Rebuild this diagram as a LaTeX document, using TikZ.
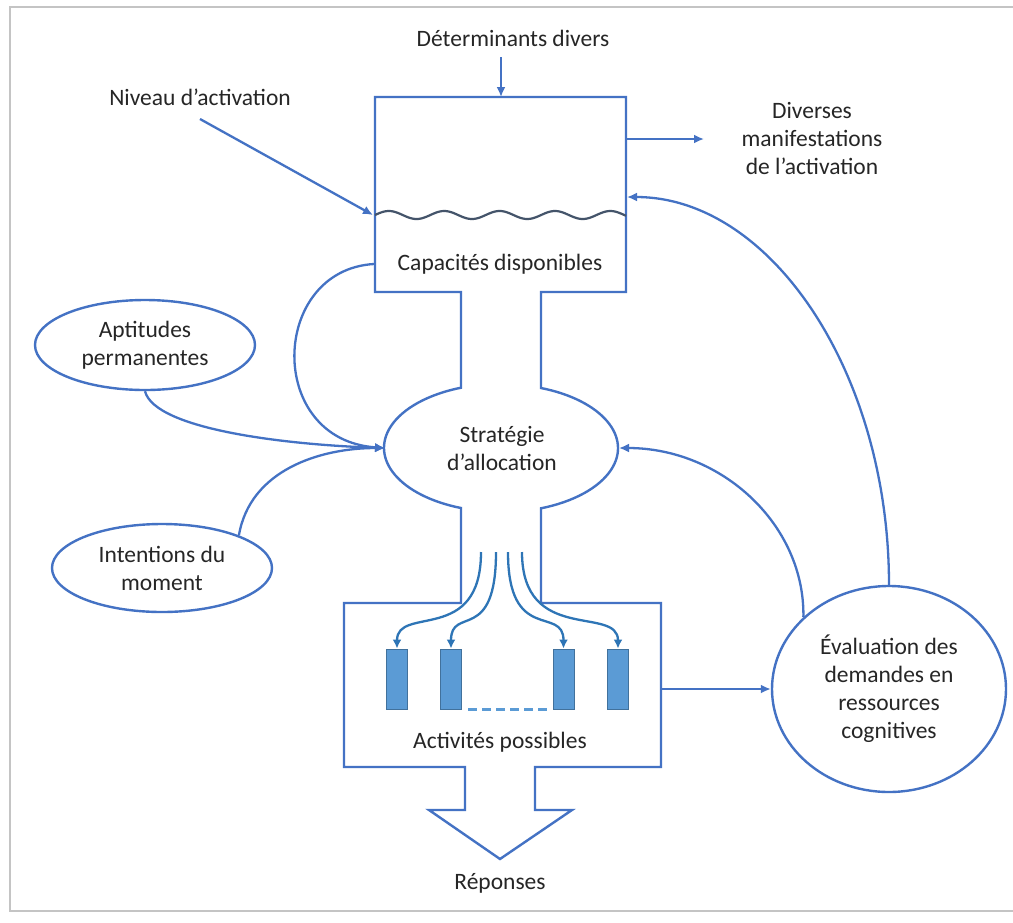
\documentclass[tikz,border=0pt]{standalone}
\usepackage{fontspec}
\setmainfont{Carlito}
\usetikzlibrary{shapes.geometric,arrows.meta}
\definecolor{ln}{HTML}{4472C4}
\definecolor{txt}{HTML}{262626}
\definecolor{wavec}{HTML}{44546A}
\definecolor{act}{HTML}{5B9BD5}
\definecolor{actb}{HTML}{41719C}
\definecolor{arr}{HTML}{2E75B6}
\definecolor{framec}{HTML}{C4C4C4}
\begin{document}
\begin{tikzpicture}[x=1pt,y=-1pt,
  font=\fontsize{23.5}{28}\selectfont,
  outl/.style={draw=ln, line width=2.4pt, line join=miter},
  conn/.style={draw=ln, line width=2.3pt, -{Latex[length=10pt,width=9pt]}},
  aconn/.style={draw=arr, line width=2.3pt, -{Latex[length=9pt,width=9pt]}},
  lbl/.style={align=center, text=txt, inner sep=0pt},
  ell/.style={ellipse, draw=ln, line width=2.4pt, inner sep=0pt, align=center, text=txt},
  actbox/.style={draw=actb, fill=act, line width=1pt, inner sep=0pt, minimum width=21pt, minimum height=60pt}]
\useasboundingbox (0,0) rectangle (1013,922);
\fill[white] (0,0) rectangle (1013,922);
% frame
\draw[framec, line width=2.5pt] (1020,7) -- (10,7) -- (10,911) -- (1020,911);

% main outline
\draw[outl] (375,97) -- (626,97) -- (626,292) -- (541,292) -- (541,388)
  arc[start angle=-70, end angle=70, x radius=117, y radius=64]
  -- (541,603) -- (661,603) -- (661,767) -- (535,767) -- (535,810) -- (572,810)
  -- (500,859) -- (429,810) -- (465,810) -- (465,767) -- (344,767) -- (344,603)
  -- (461,603) -- (461,508)
  arc[start angle=110, end angle=250, x radius=117, y radius=64]
  -- (461,292) -- (375,292) -- cycle;

% wave
\draw[wavec, line width=2.2pt] plot[domain=375:626, samples=140, smooth] (\x, {215 - 4*sin((\x-375)*6.5)});

% coordinates
\coordinate (dstart) at (501,57);
\coordinate (dend) at (501,97);
\coordinate (nstart) at (200,119);
\coordinate (nend) at (373,215);
\coordinate (mstart) at (626,139);
\coordinate (mend) at (704,139);
\coordinate (capR) at (627,197);
\coordinate (capL) at (374,264);
\coordinate (allocL) at (385,448);
\coordinate (allocR) at (619,448);
\coordinate (actR) at (661,689);

% texts
\node[lbl] (det) at (513,38) {Déterminants divers};
\node[lbl] (niv) at (200,97) {Niveau d’activation};
\node[lbl] (div) at (812,138) {Diverses\\manifestations\\de l’activation};
\node[lbl] (cap) at (500,264) {Capacités disponibles};
\node[lbl] (strat) at (502,448) {Stratégie\\d’allocation};
\node[lbl] (actp) at (500,742) {Activités possibles};
\node[lbl] (rep) at (500,883) {Réponses};

% ellipses
\node[ell, minimum width=220pt, minimum height=90pt] (apt) at (145,345) {Aptitudes\\permanentes};
\node[ell, minimum width=220pt, minimum height=88pt] (int) at (162,568) {Intentions du\\moment};
\node[ell, minimum width=234pt, minimum height=206pt] (eval) at (889,689) {Évaluation des\\demandes en\\ressources\\cognitives};

% activity rectangles
\node[actbox] (a1) at (397,679) {};
\node[actbox] (a2) at (451,679) {};
\node[actbox] (a3) at (563.5,679) {};
\node[actbox] (a4) at (618,679) {};
\draw[act, line width=2.3pt, dash pattern=on 9pt off 5pt] ([xshift=6pt]a2.south east) -- ([xshift=-2pt]a3.south west);

% connectors
\draw[conn] (dstart) -- (dend);
\draw[conn] (nstart) -- (nend);
\draw[conn] (mstart) -- (mend);
\draw[conn] (eval.north) .. controls (889,373) and (771,197) .. (capR);
\draw[conn] (eval.140) .. controls (805,525) and (722,448) .. (allocR);
\draw[conn] (actR) -- (eval.west);
\draw[conn] (capL) .. controls (270,270) and (265,440) .. (allocL);
\draw[conn] (apt.south) .. controls (155,430) and (290,445) .. (allocL);
\draw[conn] (int.23) .. controls (250,470) and (320,448) .. (allocL);

% allocation arrows
\coordinate (s1) at (481,552);
\coordinate (s2) at (496,552);
\coordinate (s3) at (508,552);
\coordinate (s4) at (522,552);
\draw[aconn] (s1) .. controls (481,645) and (397,605) .. (a1.north);
\draw[aconn] (s2) .. controls (496,645) and (451,605) .. (a2.north);
\draw[aconn] (s3) .. controls (508,645) and (563.5,605) .. (a3.north);
\draw[aconn] (s4) .. controls (522,645) and (618,605) .. (a4.north);
\end{tikzpicture}
\end{document}
